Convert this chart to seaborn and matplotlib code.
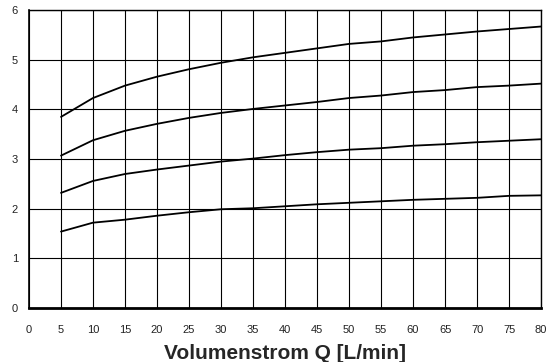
import numpy as np
import pandas as pd
import matplotlib
matplotlib.use("Agg")
import matplotlib.pyplot as plt
import seaborn as sns

# flow rate values (L/min)
flow = [5, 10, 15, 20, 25, 30, 35, 40, 45, 50, 55, 60, 65, 70, 75, 80]

# four characteristic curves
curve_1 = [3.85, 4.23, 4.48, 4.66, 4.81, 4.94, 5.05, 5.14, 5.23, 5.32, 5.37, 5.45, 5.51, 5.57, 5.62, 5.67]
curve_2 = [3.07, 3.38, 3.57, 3.71, 3.83, 3.93, 4.01, 4.08, 4.15, 4.23, 4.28, 4.35, 4.39, 4.45, 4.48, 4.52]
curve_3 = [2.32, 2.56, 2.70, 2.79, 2.87, 2.95, 3.01, 3.08, 3.14, 3.19, 3.22, 3.27, 3.30, 3.34, 3.37, 3.40]
curve_4 = [1.54, 1.72, 1.78, 1.86, 1.93, 1.99, 2.01, 2.05, 2.09, 2.12, 2.15, 2.18, 2.20, 2.22, 2.26, 2.27]

x_ticks = list(range(0, 85, 5))
y_ticks = [0, 1, 2, 3, 4, 5, 6]
x_label = "Volumenstrom Q [L/min]"

frames = []
for name, vals in [("c1", curve_1), ("c2", curve_2), ("c3", curve_3), ("c4", curve_4)]:
    frames.append(pd.DataFrame({"Q": flow, "val": vals, "curve": name}))
df = pd.concat(frames, ignore_index=True)

sns.set_theme(style="white")
plt.rcParams['font.family'] = ['Liberation Sans', 'DejaVu Sans']

fig = plt.figure(figsize=(5.51, 3.62), dpi=100)
ax = fig.add_axes([0.0526, 0.149, 0.9294, 0.823])

sns.lineplot(data=df, x="Q", y="val", hue="curve", palette=["black"] * 4,
             linewidth=1.3, legend=False, ax=ax)

ax.set_xlim(0, 80)
ax.set_ylim(0, 6)
ax.set_xticks(x_ticks)
ax.set_yticks(y_ticks)
ax.grid(True, color="black", linewidth=0.8)
ax.set_axisbelow(True)
ax.tick_params(axis="both", length=0, labelsize=8, colors="#222222")
ax.tick_params(axis="x", pad=12)
ax.tick_params(axis="y", pad=8)

for side in ["top", "right"]:
    ax.spines[side].set_color("black")
    ax.spines[side].set_linewidth(1.0)
ax.spines["left"].set_color("black")
ax.spines["left"].set_linewidth(1.2)
ax.spines["bottom"].set_color("black")
ax.spines["bottom"].set_linewidth(2.0)

ax.set_xlabel(x_label, fontsize=15, fontweight="bold", labelpad=7)
ax.set_ylabel("")

fig.savefig("out.png", dpi=100)
